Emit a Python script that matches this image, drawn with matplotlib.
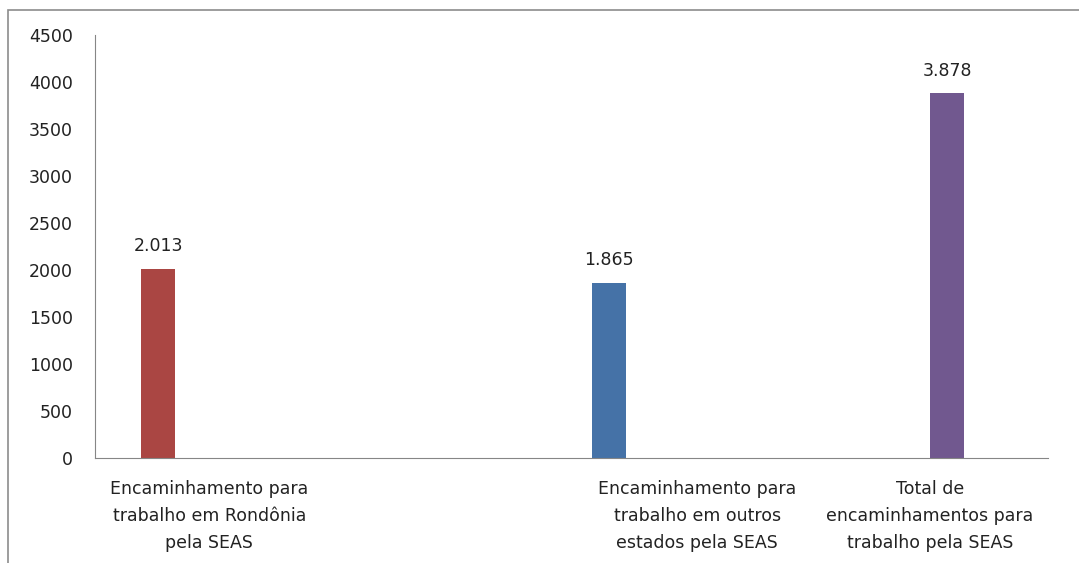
import matplotlib.pyplot as plt
from matplotlib.patches import Rectangle

# data
categories = ['Encaminhamento para\ntrabalho em Rondônia\npela SEAS',
              'Encaminhamento para\ntrabalho em outros\nestados pela SEAS',
              'Total de\nencaminhamentos para\ntrabalho pela SEAS']
values = [2013, 1865, 3878]
value_labels = ['2.013', '1.865', '3.878']
colors = ['#AA4643', '#4572A7', '#71588F']

# layout (fractions of the x axis)
bar_pos = [0.0666, 0.539, 0.894]
label_pos = [0.12, 0.632, 0.876]
bar_w = 0.0357

plt.rcParams['font.family'] = 'DejaVu Sans'
fig = plt.figure(figsize=(10.79, 5.63), dpi=100)
fig.patches.append(Rectangle((8/1079, -0.1), 1.2, 1 - 10/563 + 0.1, transform=fig.transFigure,
                             fill=False, edgecolor='#8c8c8c', linewidth=1.2))
ax = fig.add_axes([95/1079, 1 - 458/563, (1048 - 95)/1079, (458 - 35)/563])

bars = ax.bar(bar_pos, values, width=bar_w, color=colors)
for b, lab in zip(bars, value_labels):
    ax.annotate(lab, (b.get_x() + b.get_width()/2, b.get_height()), xytext=(0, 10),
                textcoords='offset points', ha='center', va='bottom', fontsize=12.5, color='#222222')

ax.set_xlim(0, 1)
ax.set_ylim(0, 4500)
ax.set_yticks(range(0, 4501, 500))
ax.set_xticks(label_pos, categories, fontsize=12.5, linespacing=1.62)
ax.tick_params(axis='both', length=0, colors='#222222', labelsize=12.5)
ax.tick_params(axis='y', pad=16)
ax.tick_params(axis='x', pad=16)
for s in ['top', 'right']:
    ax.spines[s].set_visible(False)
for s in ['left', 'bottom']:
    ax.spines[s].set_color('#868686')

fig.savefig('out.png', dpi=100)
